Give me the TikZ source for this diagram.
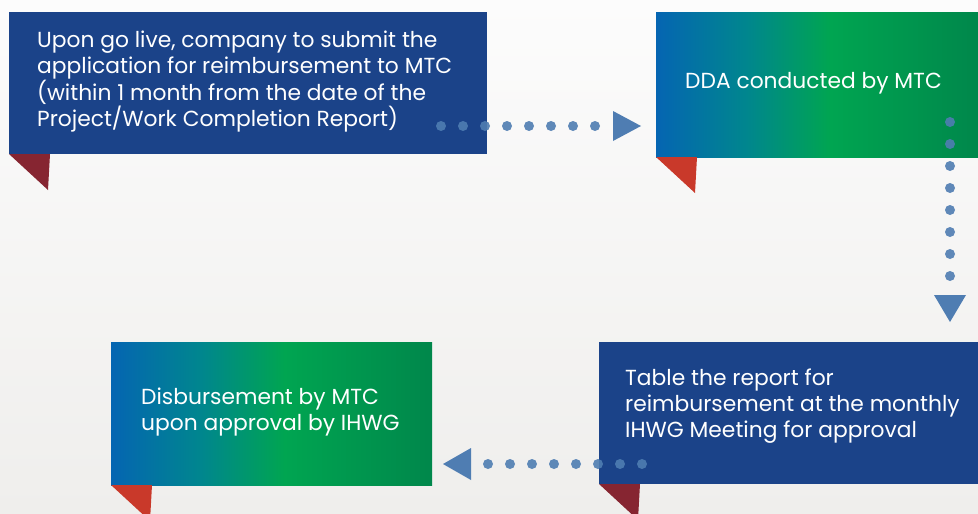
\documentclass[tikz,border=0pt]{standalone}
\usepackage{fontspec}
\setmainfont{Poppins}
\usetikzlibrary{positioning}
\definecolor{boxblue}{HTML}{1B4389}
\definecolor{gblue}{HTML}{0565B2}
\definecolor{gteal}{HTML}{00868E}
\definecolor{ggreen}{HTML}{00A551}
\definecolor{gdark}{HTML}{00874B}
\definecolor{tabdark}{HTML}{862531}
\definecolor{tabred}{HTML}{C9392A}
\definecolor{dotblue}{HTML}{4F7DB2}
\definecolor{bgtop}{HTML}{FCFCFC}
\definecolor{bgbot}{HTML}{EFEEEC}
\pgfdeclarehorizontalshading{bluegreen}{100bp}{color(0bp)=(gblue); color(25bp)=(gblue);
 color(39bp)=(gteal); color(52bp)=(ggreen); color(75bp)=(gdark); color(100bp)=(gdark)}
\begin{document}
\begin{tikzpicture}[x=1pt,y=-1pt,
 box/.style={inner sep=0pt,outer sep=0pt,anchor=north west},
 txt/.style={text=white,align=left,anchor=west,inner sep=0pt,
 font=\fontsize{21.8}{26}\selectfont},
 dots/.style={dotblue,opacity=.9,line width=10pt,line cap=round,
 dash pattern=on 0pt off 22pt}]
 \clip (0,0) rectangle (978,514);
 \fill[top color=bgtop,bottom color=bgbot] (0,0) rectangle (978,514);
 % boxes
 \node[box,fill=boxblue,minimum width=478pt,minimum height=142pt] (b1) at (9,12) {};
 \node[box,shading=bluegreen,minimum width=323pt,minimum height=145pt] (b2) at (656,12) {};
 \node[box,fill=boxblue,minimum width=380pt,minimum height=142pt] (b4) at (599,342) {};
 \node[box,shading=bluegreen,minimum width=321pt,minimum height=143pt] (b3) at (111,342) {};
 % tabs
 \fill[tabdark] (b1.south west)--++(41,0)--++(-2,36)--cycle;
 \fill[tabred] (b2.south west)--++(41,0)--++(-2,36)--cycle;
 \fill[tabdark] (b4.south west)--++(41,0)--++(-2,36)--cycle;
 \fill[tabred] (b3.south west)--++(41,0)--++(-2,36)--cycle;
 % texts
 \node[txt] (t1) at (37,82) {Upon go live, company to submit the\\
 application for reimbursement to MTC\\
 (within 1 month from the date of the\\
 Project/Work Completion Report)};
 \node[txt] (t2) at (685,83) {DDA conducted by MTC};
 \node[txt] (t4) at (625,406) {Table the report for\\
 reimbursement at the monthly\\
 IHWG Meeting for approval};
 \node[txt] (t3) at (141,412) {Disbursement by MTC\\
 upon approval by IHWG};
 % dotted links
 \coordinate (s1) at (441,126); \coordinate (e1) at (596,126);
 \coordinate (s2) at (950,122); \coordinate (e2) at (950,277);
 \coordinate (s3) at (642,464); \coordinate (e3) at (487,464);
 \draw[dots] (s1)--(e1);
 \draw[dots] (s2)--(e2);
 \draw[dots] (s3)--(e3);
 \fill[dotblue] (e1)++(17,-15)--++(28,15)--++(-28,15)--cycle;
 \fill[dotblue] (e2)++(-16,18)--++(32,0)--++(-16,27)--cycle;
 \fill[dotblue] (e3)++(-16,-16)--++(-28,16)--++(28,16)--cycle;
\end{tikzpicture}
\end{document}
